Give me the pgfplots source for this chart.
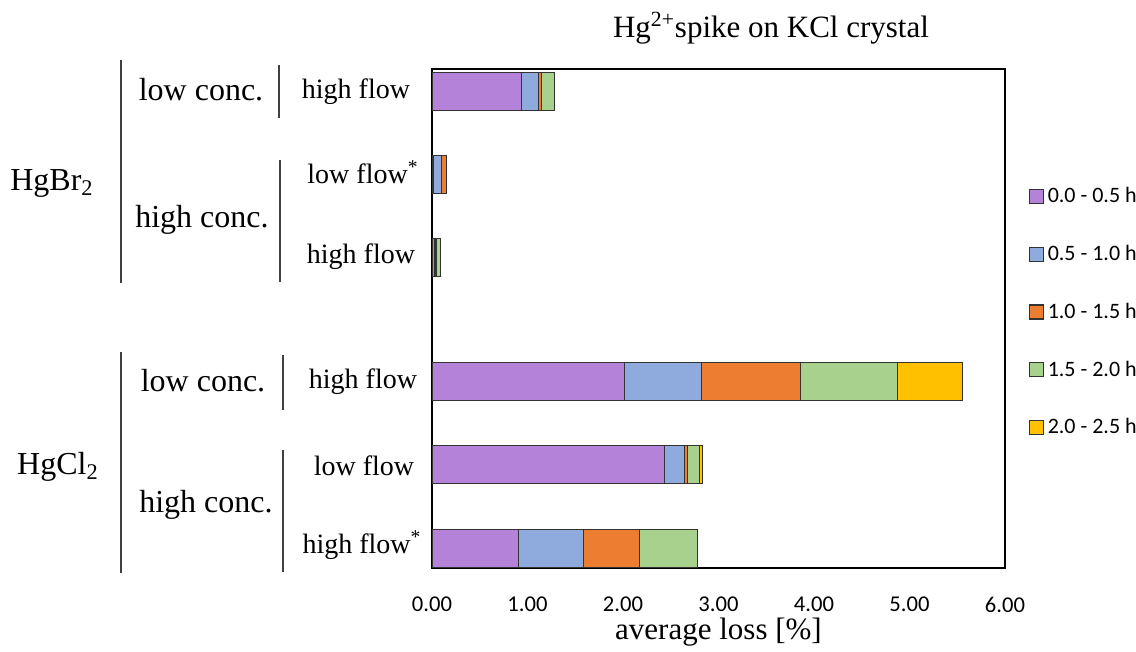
\documentclass[border=0pt]{standalone}
\usepackage{fontspec}
\setmainfont{Liberation Serif}
\newfontfamily\carlito{Carlito}
\usepackage{pgfplots}
\usepackage{pgfplotstable}
\pgfplotsset{compat=1.18}

\definecolor{cA}{HTML}{B482D9}
\definecolor{cB}{HTML}{8FAADC}
\definecolor{cC}{HTML}{ED7D31}
\definecolor{cD}{HTML}{A9D18E}
\definecolor{cE}{HTML}{FFC000}

% rows from bottom to top; gap between the HgBr2 and HgCl2 groups
\pgfplotstableread{
y    a      b      c      d      e
0    0.91   0.68   0.58   0.61   0
1    2.43   0.21   0.04   0.12   0.03
2    2.02   0.80   1.04   1.01   0.69
3.5  0.03   0.01   0.01   0.04   0
4.5  0.015  0.085  0.05   0      0
5.5  0.94   0.18   0.03   0.13   0
}\losses

\begin{document}
\begin{tikzpicture}
\path[use as bounding box] (0,0) rectangle (568pt,326pt);
\begin{axis}[
  at={(216pt,42pt)}, anchor=south west,
  scale only axis, width=286.5pt, height=249.5pt,
  xbar stacked, bar width=19pt,
  xmin=0, xmax=6, ymin=-0.24, ymax=5.765,
  ytick=\empty,
  xtick={0,...,6}, xtick style={draw=none},
  xticklabel shift=11pt,
  /pgf/number format/assume math mode=true,
  xticklabel style={font=\carlito\fontsize{11.3}{13}\selectfont,
    /pgf/number format/.cd, fixed, fixed zerofill, precision=2},
  axis line style={black, line width=0.6pt},
  every axis plot/.append style={draw=black!80, line width=0.5pt},
  xlabel={average loss [\%]},
  xlabel style={font=\fontsize{15.5}{18}\selectfont, yshift=4pt},
  legend style={at={(1.03,0.513)}, anchor=west, draw=none, fill=none,
    font=\carlito\fontsize{11}{13}\selectfont, row sep=15.8pt,
    /tikz/every even column/.append style={column sep=1pt}},
  legend cell align=left,
  legend image code/.code={\draw[#1, line width=0.6pt] (0pt,-3.5pt) rectangle (7pt,3.5pt);},
]
\addplot[fill=cA] table[x=a, y=y] {\losses};
\addlegendentry{0.0 - 0.5 h}
\addplot[fill=cB] table[x=b, y=y] {\losses};
\addlegendentry{0.5 - 1.0 h}
\addplot[fill=cC] table[x=c, y=y] {\losses};
\addlegendentry{1.0 - 1.5 h}
\addplot[fill=cD] table[x=d, y=y] {\losses};
\addlegendentry{1.5 - 2.0 h}
\addplot[fill=cE] table[x=e, y=y] {\losses};
\addlegendentry{2.0 - 2.5 h}
\end{axis}

% title
\node[font=\fontsize{15.5}{18}\selectfont] at (385.5pt,312pt) {Hg\textsuperscript{2+}spike on KCl crystal};

% group labels
\node[font=\fontsize{16}{19}\selectfont] at (26pt,234.5pt) {HgBr\textsubscript{2}};
\node[font=\fontsize{16}{19}\selectfont] at (29pt,92.5pt) {HgCl\textsubscript{2}};
\draw[black!75, line width=0.6pt] (60.5pt,296pt) -- (60.5pt,184.5pt);
\draw[black!75, line width=0.6pt] (60.5pt,150pt) -- (60.5pt,39.5pt);

\node[font=\fontsize{16}{19}\selectfont] at (100.5pt,281pt) {low conc.};
\node[font=\fontsize{16}{19}\selectfont] at (101pt,216pt) {high conc.};
\node[font=\fontsize{16}{19}\selectfont] at (101.5pt,135.5pt) {low conc.};
\node[font=\fontsize{16}{19}\selectfont] at (103pt,73.5pt) {high conc.};
\draw[black!75, line width=0.6pt] (139.5pt,293.5pt) -- (139.5pt,267pt);
\draw[black!75, line width=0.6pt] (140pt,246pt) -- (140pt,185pt);
\draw[black!75, line width=0.6pt] (141.5pt,148.5pt) -- (141.5pt,121pt);
\draw[black!75, line width=0.6pt] (141.5pt,101pt) -- (141.5pt,40pt);

\node[font=\fontsize{14}{17}\selectfont] at (178pt,280pt) {high flow};
\node[font=\fontsize{14}{17}\selectfont] at (181.5pt,240pt) {low flow\textsuperscript{*}};
\node[font=\fontsize{14}{17}\selectfont] at (180.5pt,197.5pt) {high flow};
\node[font=\fontsize{14}{17}\selectfont] at (181.5pt,135pt) {high flow};
\node[font=\fontsize{14}{17}\selectfont] at (182pt,93pt) {low flow};
\node[font=\fontsize{14}{17}\selectfont] at (181pt,53.5pt) {high flow\textsuperscript{*}};
\end{tikzpicture}
\end{document}
